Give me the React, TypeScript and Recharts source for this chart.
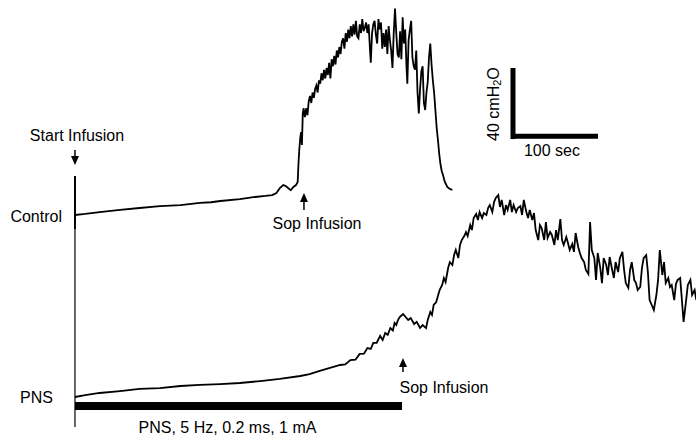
import React from "react";
import {
  LineChart,
  Line,
  XAxis,
  YAxis,
  ReferenceLine,
  ReferenceArea,
  ReferenceDot,
} from "recharts";

// time in seconds from start of infusion, pressure in cmH2O above each trace's own baseline
const controlTime = [
  0, 12, 29, 53, 76, 100, 124, 147, 160, 171, 194, 212, 224, 232, 237, 241, 245, 248, 252, 254,
  257, 260, 262, 263, 264, 265, 266, 267, 268, 269, 270.5, 272, 273.5, 275, 276.5, 278, 279.5, 281,
  282.5, 284, 285.5, 287, 288.5, 290, 291.5, 293, 294.5, 296, 297.5, 299, 300.5, 302, 303.5, 305,
  306.5, 308, 309.5, 311, 312.5, 314, 315.5, 317, 318.5, 320, 321.5, 323, 324.5, 326, 327.5, 329,
  330.5, 332, 333.5, 335, 336.5, 338, 339.5, 341, 342.5, 344, 345.5, 347, 348, 349.5, 351, 352.5,
  354, 355.5, 357, 358.5, 360, 361.5, 363, 364.5, 366, 367.5, 369, 370.5, 372, 373.5, 375, 376.5,
  378, 379.5, 381, 382.5, 384, 385.5, 387, 388.5, 390, 391, 392.5, 394, 395.5, 397, 398.5, 400,
  401.5, 403, 404.5, 406, 407.5, 409, 410.5, 412, 413.5, 415, 416.5, 418, 419.5, 421, 422.5, 424,
  425.5, 427, 428.5, 430, 431.5, 433, 435, 438, 441, 444,
];
const controlPressure = [
  0, 0.6, 1.7, 2.9, 4, 5.1, 5.7, 6.9, 7.3, 8, 9.1, 10.3, 10.9, 11.4, 12.6, 15.4, 17.1, 16.6, 14.9,
  14.3, 16, 17.1, 18.9, 30, 38, 44, 47.4, 40, 58, 61, 56, 61, 57, 65, 68, 64, 70, 67, 72, 74, 70,
  77, 75, 81, 77, 83, 78, 84, 80, 87, 78, 89, 85, 91, 86, 94, 90, 96, 92, 99, 101, 95, 104, 99,
  106, 101, 108, 102, 109, 103, 111, 102, 101, 109, 104, 112, 105, 107, 110, 104, 109, 95, 87, 104,
  109, 111, 103, 98, 112, 106, 110, 95, 104, 96, 106, 92, 108, 100, 94, 84, 104, 118, 104, 92,
  90, 105, 89, 113, 98, 106, 85, 75, 100, 106, 111, 90, 85, 83, 94, 70, 58, 72, 82, 85, 64, 60,
  70, 76, 90, 98, 86, 77, 70, 60, 50, 43, 35, 29, 25, 22.9, 19, 16, 14.9, 14.3,
];

const pnsTime = [
  0, 12, 29, 53, 76, 100, 124, 147, 171, 194, 218, 241, 265, 276, 288, 300, 312, 318, 324, 330,
  335, 340, 344, 348, 351, 355, 359, 362, 365, 368, 371, 374, 376, 378, 380, 382, 386, 388, 392,
  395, 399, 402, 406, 409, 413, 415, 418, 420, 422, 425, 427, 429, 432, 434, 436, 439, 441, 444,
  446, 448, 451, 453, 455, 458, 460, 462, 465, 467, 469, 472, 474, 476, 479, 481, 484, 486, 488,
  491, 493, 495, 498, 500, 502, 505, 507, 509, 512, 514, 516, 519, 521, 524, 526, 528, 531, 533,
  535, 538, 540, 542, 545, 547, 549, 552, 554, 556, 559, 561, 564, 566, 568, 571, 573, 575, 578,
  580, 582, 585, 587, 589, 592, 594, 596, 599, 601, 604, 606, 608, 611, 613, 615, 618, 620, 622,
  625, 627, 629, 632, 634, 636, 639, 641, 644, 646, 648, 651, 653, 655, 658, 660, 662, 665, 667,
  669, 672, 674, 676, 679, 681, 684, 686, 688, 691, 693, 695, 698, 700, 702, 705, 707, 709, 712,
  714, 716, 719, 721, 724, 726, 729, 731,
];
const pnsPressure = [
  0, 1.1, 2.3, 3.4, 4.6, 5.1, 6.3, 6.9, 7.4, 8, 9.1, 10.3, 12, 13.1, 14.9, 16.6, 18.3, 18.6, 21.1,
  21.4, 24.6, 24.8, 28, 27.5, 30.9, 31, 34.9, 32.6, 36.6, 35.5, 39.4, 38, 42.3, 41.2, 44, 45.7,
  47.4, 46.3, 44, 45.1, 41.7, 42.9, 39.4, 41.1, 39.4, 44, 48.6, 46.9, 52.6, 54.3, 57.7, 61.1, 64,
  68, 65.7, 73.7, 77.1, 75.4, 81.1, 84, 79.4, 86.9, 89.7, 92, 94.3, 92, 98.3, 95.4, 102.3, 104.6,
  101.1, 105.7, 102.3, 105.1, 104, 108, 109.7, 105.7, 111.4, 113.7, 115.4, 108.6, 112.6, 104,
  109.7, 106.9, 112.6, 105.7, 109.7, 105.7, 108, 109.1, 104, 112.6, 105.7, 102.3, 106.9, 101.1,
  105.1, 95.4, 89.7, 98.3, 96.6, 89.7, 100, 90.9, 94.3, 92.6, 86.9, 95.4, 89.7, 101.7, 89.7, 86.9,
  91.4, 88, 84, 87.4, 82.9, 93.7, 85.7, 82.3, 79.4, 77.1, 72.6, 70.3, 100, 84, 79.4, 66.9, 82.3,
  73.7, 65.1, 79.4, 75.4, 69.7, 80, 72.6, 68, 77.1, 71.4, 79.4, 82.9, 72.6, 65.1, 62.3, 72.6, 77.1,
  66.9, 65.1, 61.1, 62.9, 73.7, 79.4, 81.1, 71.4, 55.4, 52, 49.7, 58.3, 66.9, 84, 69.7, 77.1, 65.1,
  68, 62.9, 64, 55.4, 64.6, 66.9, 68, 55.4, 42.9, 55.4, 64, 66.9, 58.3, 61.1, 55.4,
];

// event times (s)
const sopControlTime = 269.4;
const sopPnsTime = 385.9;
const stimEndTime = 384.7;

const controlData = controlTime.map((t, i) => ({ t, p: controlPressure[i] }));
const pnsData = pnsTime.map((t, i) => ({ t, p: pnsPressure[i] }));

const FONT = "'Liberation Sans', Arial, sans-serif";

function arrowShape(dir: "up" | "down", len: number) {
  return (props: any) => {
    const { cx, cy } = props;
    const s = dir === "up" ? 1 : -1;
    return (
      <g>
        <line x1={cx} y1={cy + s * 6} x2={cx} y2={cy + s * len} stroke="#000" strokeWidth={1.5} />
        <path
          d={`M${cx - 4},${cy + s * 9} L${cx},${cy} L${cx + 4},${cy + s * 9} Z`}
          fill="#000"
        />
      </g>
    );
  };
}

function textShape(label: string, anchor: "start" | "middle" | "end" = "middle") {
  return (props: any) => (
    <text
      x={props.cx}
      y={props.cy}
      textAnchor={anchor}
      dominantBaseline="central"
      fontFamily={FONT}
      fontSize={16}
      fill="#000"
    >
      {label}
    </text>
  );
}

const scaleLabelShape = (props: any) => (
  <text
    x={props.cx}
    y={props.cy}
    transform={`rotate(-90 ${props.cx} ${props.cy})`}
    textAnchor="middle"
    dominantBaseline="central"
    fontFamily={FONT}
    fontSize={16}
    fill="#000"
  >
    40 cmH
    <tspan fontSize={11} dy={4}>
      2
    </tspan>
    <tspan dy={-4}>O</tspan>
  </text>
);

export default function App() {
  return (
    <div style={{ position: "absolute", left: 0, top: 0, background: "#fff" }}>
      <LineChart width={696} height={441} margin={{ top: 0, right: 0, bottom: 0, left: 0 }}>
        <XAxis type="number" dataKey="t" domain={[-88.2, 730.6]} hide allowDataOverflow />
        <YAxis yAxisId="control" type="number" domain={[-129.14, 122.86]} hide allowDataOverflow />
        <YAxis yAxisId="pns" type="number" domain={[-25.14, 226.86]} hide allowDataOverflow />

        {/* start of infusion marker */}
        <ReferenceLine
          yAxisId="control"
          segment={[{ x: 0, y: 22.3 }, { x: 0, y: -8 }]}
          stroke="#000"
          strokeWidth={2}
        />
        <ReferenceLine
          yAxisId="control"
          segment={[{ x: 0, y: -8 }, { x: 0, y: -121.1 }]}
          stroke="#000"
          strokeWidth={1.2}
        />

        <Line
          yAxisId="control"
          data={controlData}
          dataKey="p"
          type="linear"
          stroke="#000"
          strokeWidth={1.8}
          dot={false}
          activeDot={false}
          isAnimationActive={false}
        />
        <Line
          yAxisId="pns"
          data={pnsData}
          dataKey="p"
          type="linear"
          stroke="#000"
          strokeWidth={1.8}
          dot={false}
          activeDot={false}
          isAnimationActive={false}
        />

        {/* stimulation bar */}
        <ReferenceArea
          yAxisId="pns"
          x1={0}
          x2={stimEndTime}
          y1={-7.4}
          y2={-2.9}
          fill="#000"
          fillOpacity={1}
          stroke="none"
        />

        {/* scale bar */}
        <ReferenceLine
          yAxisId="control"
          segment={[{ x: 515.3, y: 43.4 }, { x: 515.3, y: 84 }]}
          stroke="#000"
          strokeWidth={5}
        />
        <ReferenceLine
          yAxisId="control"
          segment={[{ x: 513, y: 45 }, { x: 615.3, y: 45 }]}
          stroke="#000"
          strokeWidth={5}
        />

        <ReferenceDot yAxisId="control" x={0} y={28.6} r={0} shape={arrowShape("down", 15)} />
        <ReferenceDot yAxisId="control" x={sopControlTime} y={12.6} r={0} shape={arrowShape("up", 17)} />
        <ReferenceDot yAxisId="pns" x={sopPnsTime} y={22.3} r={0} shape={arrowShape("up", 14)} />

        <ReferenceDot yAxisId="control" x={2.4} y={45.7} r={0} shape={textShape("Start Infusion")} />
        <ReferenceDot yAxisId="control" x={-15.3} y={-1.1} r={0} shape={textShape("Control", "end")} />
        <ReferenceDot yAxisId="control" x={284.7} y={-4.6} r={0} shape={textShape("Sop Infusion")} />
        <ReferenceDot yAxisId="pns" x={-25.9} y={0} r={0} shape={textShape("PNS", "end")} />
        <ReferenceDot yAxisId="pns" x={434.1} y={5.7} r={0} shape={textShape("Sop Infusion")} />
        <ReferenceDot
          yAxisId="pns"
          x={179.4}
          y={-17.7}
          r={0}
          shape={textShape("PNS, 5 Hz, 0.2 ms, 1 mA")}
        />
        <ReferenceDot yAxisId="control" x={561.2} y={37.1} r={0} shape={textShape("100 sec")} />
        <ReferenceDot yAxisId="control" x={491.8} y={63.4} r={0} shape={scaleLabelShape} />
      </LineChart>
    </div>
  );
}
